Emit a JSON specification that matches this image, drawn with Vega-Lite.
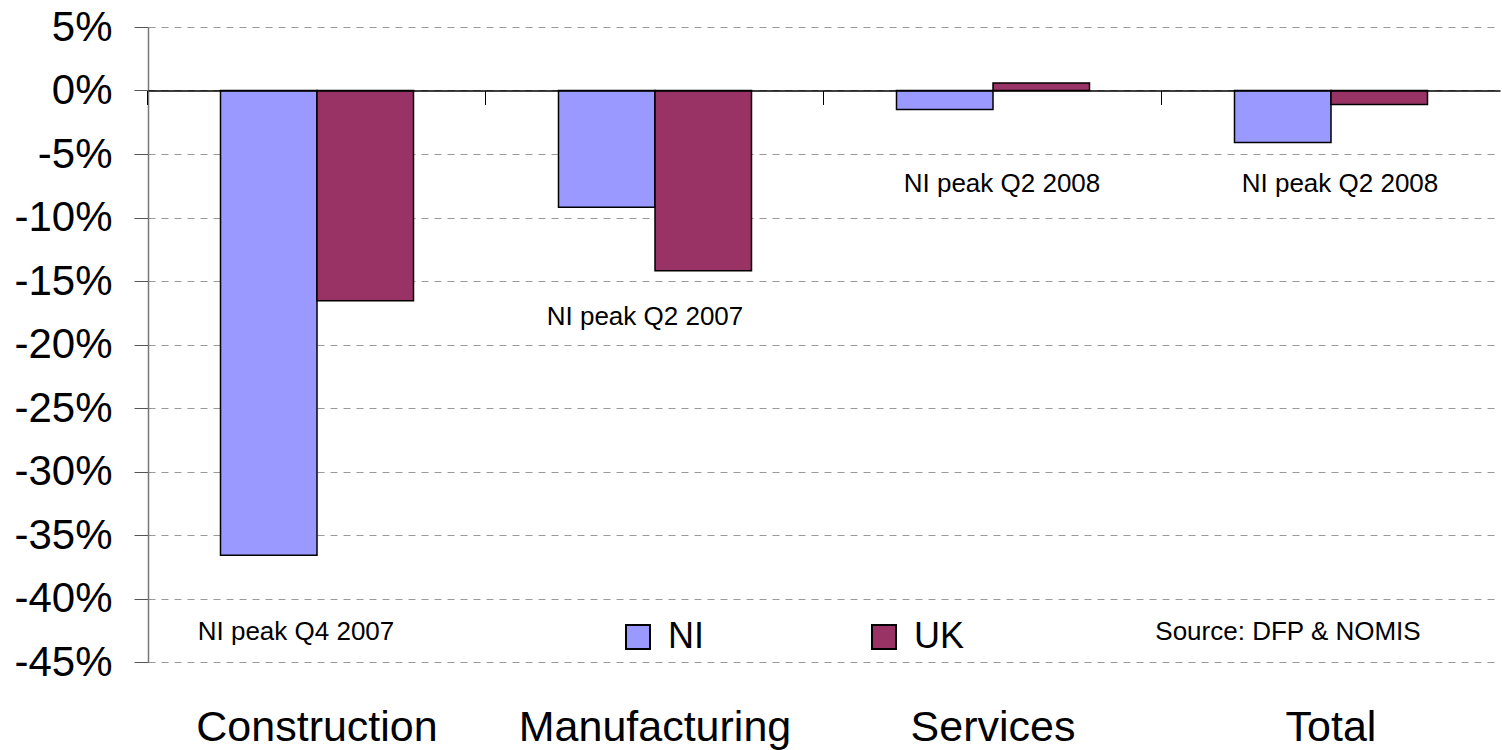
{
  "$schema": "https://vega.github.io/schema/vega-lite/v6.json",
  "width": 1352,
  "height": 635,
  "autosize": "none",
  "padding": {"left": 148, "top": 27, "right": 2, "bottom": 88},
  "background": "white",
  "config": {
    "font": "Liberation Sans",
    "view": {"stroke": null},
    "axis": {"labelFont": "Liberation Sans", "labelColor": "black"}
  },
  "datasets": {
    "bars": [
      {"category": "Construction", "series": "NI", "value": -36.6},
      {"category": "Construction", "series": "UK", "value": -16.55},
      {"category": "Manufacturing", "series": "NI", "value": -9.2},
      {"category": "Manufacturing", "series": "UK", "value": -14.2},
      {"category": "Services", "series": "NI", "value": -1.5},
      {"category": "Services", "series": "UK", "value": 0.6},
      {"category": "Total", "series": "NI", "value": -4.1},
      {"category": "Total", "series": "UK", "value": -1.1}
    ],
    "notes": [
      {"category": "Construction", "value": -42.6, "label": "NI peak Q4 2007", "kind": "left"},
      {"category": "Manufacturing", "value": -17.8, "label": "NI peak Q2 2007", "kind": "mid"},
      {"category": "Services", "value": -7.4, "label": "NI peak Q2 2008", "kind": "right"},
      {"category": "Total", "value": -7.4, "label": "NI peak Q2 2008", "kind": "right"},
      {"category": "Total", "value": -42.6, "label": "Source: DFP &  NOMIS", "kind": "source"}
    ]
  },
  "layer": [
    {
      "data": {"name": "bars"},
      "mark": {"type": "bar", "stroke": "black", "strokeWidth": 1.5},
      "encoding": {
        "x": {
          "field": "category",
          "type": "nominal",
          "sort": ["Construction", "Manufacturing", "Services", "Total"],
          "scale": {"paddingInner": 0.429, "paddingOuter": 0.2145},
          "axis": {
            "title": null,
            "labelAngle": 0,
            "labelFontSize": 43,
            "labelPadding": 44,
            "labelLimit": 0,
            "ticks": false,
            "tickSize": 0,
            "domain": false,
            "grid": false
          }
        },
        "xOffset": {
          "field": "series",
          "sort": ["NI", "UK"],
          "scale": {"paddingInner": 0, "paddingOuter": 0}
        },
        "y": {
          "field": "value",
          "type": "quantitative",
          "scale": {"domain": [-45, 5], "nice": false, "zero": false},
          "axis": {
            "title": null,
            "values": [-45, -40, -35, -30, -25, -20, -15, -10, -5, 0, 5],
            "labelExpr": "datum.value + '%'",
            "labelFontSize": 42,
            "labelPadding": 22,
            "tickSize": 14,
            "tickColor": "#555555",
            "domainColor": "#777777",
            "domainWidth": 1.5,
            "grid": true,
            "gridColor": "#999999",
            "gridDash": [7, 6],
            "gridWidth": 1
          }
        },
        "color": {
          "field": "series",
          "type": "nominal",
          "sort": ["NI", "UK"],
          "scale": {"domain": ["NI", "UK"], "range": ["#9999FF", "#993366"]},
          "legend": {
            "title": null,
            "orient": "none",
            "direction": "horizontal",
            "legendX": 472,
            "legendY": 592,
            "padding": 0,
            "symbolType": "square",
            "symbolSize": 576,
            "symbolStrokeColor": "black",
            "symbolStrokeWidth": 2,
            "symbolOpacity": 1,
            "labelFont": "Liberation Sans",
            "labelFontSize": 36,
            "labelColor": "black",
            "labelOffset": 12,
            "columnPadding": 162
          }
        }
      }
    },
    {
      "data": {"name": "notes"},
      "transform": [{"filter": "datum.kind == 'left'"}],
      "mark": {"type": "text", "fontSize": 26, "font": "Liberation Sans", "color": "black", "align": "center", "baseline": "middle", "dx": -21},
      "encoding": {
        "x": {
          "field": "category",
          "type": "nominal",
          "sort": ["Construction", "Manufacturing", "Services", "Total"],
          "axis": {
            "title": null,
            "orient": "top",
            "offset": -63.5,
            "labels": false,
            "ticks": true,
            "tickSize": -14,
            "tickColor": "black",
            "tickWidth": 1,
            "bandPosition": -0.3757,
            "domain": true,
            "domainColor": "black",
            "domainWidth": 1.5,
            "grid": false,
            "zindex": 1
          }
        },
        "y": {"field": "value", "type": "quantitative"},
        "text": {"field": "label"}
      }
    },
    {
      "data": {"name": "notes"},
      "transform": [{"filter": "datum.kind == 'mid'"}],
      "mark": {"type": "text", "fontSize": 26, "font": "Liberation Sans", "color": "black", "align": "center", "baseline": "middle", "dx": -10},
      "encoding": {
        "x": {"field": "category", "type": "nominal", "sort": ["Construction", "Manufacturing", "Services", "Total"], "axis": null},
        "y": {"field": "value", "type": "quantitative"},
        "text": {"field": "label"}
      }
    },
    {
      "data": {"name": "notes"},
      "transform": [{"filter": "datum.kind == 'right'"}],
      "mark": {"type": "text", "fontSize": 26, "font": "Liberation Sans", "color": "black", "align": "center", "baseline": "middle", "dx": 9},
      "encoding": {
        "x": {"field": "category", "type": "nominal", "sort": ["Construction", "Manufacturing", "Services", "Total"], "axis": null},
        "y": {"field": "value", "type": "quantitative"},
        "text": {"field": "label"}
      }
    },
    {
      "data": {"name": "notes"},
      "transform": [{"filter": "datum.kind == 'source'"}],
      "mark": {"type": "text", "fontSize": 26, "font": "Liberation Sans", "color": "black", "align": "center", "baseline": "middle", "dx": -43},
      "encoding": {
        "x": {"field": "category", "type": "nominal", "sort": ["Construction", "Manufacturing", "Services", "Total"], "axis": null},
        "y": {"field": "value", "type": "quantitative"},
        "text": {"field": "label"}
      }
    }
  ],
  "resolve": {"axis": {"x": "independent"}}
}
